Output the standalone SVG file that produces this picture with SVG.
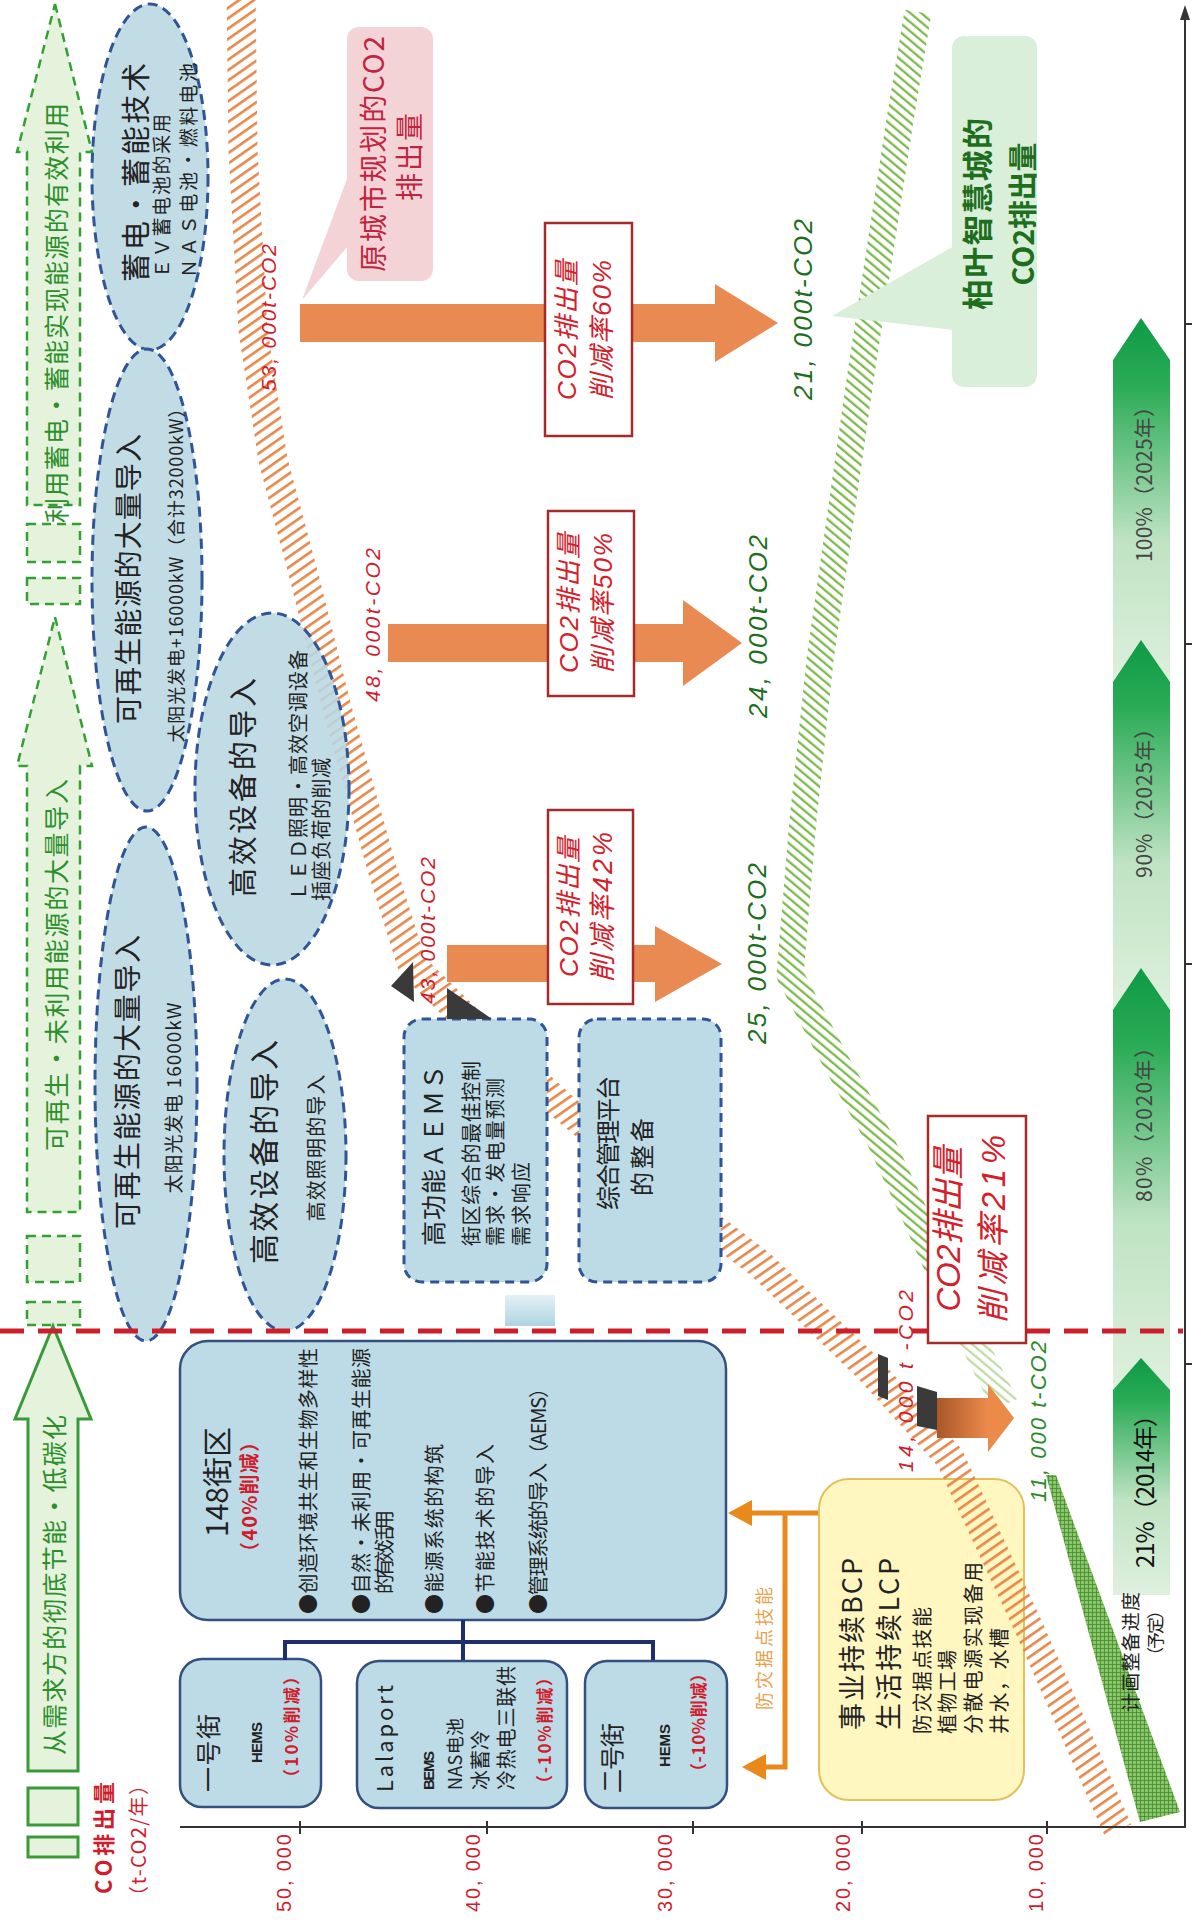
<svg xmlns="http://www.w3.org/2000/svg" width="1192" height="1922" viewBox="0 0 1192 1922">
<defs>
<style>
.cn{font-family:"Noto Sans CJK SC","Noto Sans",sans-serif;dominant-baseline:central}
.lat{font-family:"Liberation Sans","Noto Sans CJK SC",sans-serif;dominant-baseline:central}
.it{font-family:"Liberation Sans","Noto Sans CJK SC",sans-serif;font-style:italic;dominant-baseline:central}
.ell{fill:#b9d7e3;fill-opacity:.88;stroke:#2f5597;stroke-width:3;stroke-dasharray:10 6}
.dbox{fill:#bcdbe6;stroke:#2f5597;stroke-width:3;stroke-dasharray:9 6}
.box{fill:#bddbe6;stroke:#34507e;stroke-width:2.5}
.garr{fill:#e5f3dd;stroke:#34a034;stroke-width:2.5;stroke-dasharray:9 6}
.garrs{fill:#e5f3dd;stroke:#3a9a3a;stroke-width:3}
.gtxt{fill:#2b8f2b;font-size:25px}
.oarr{fill:#e98a52}
.rbox{fill:#fff;stroke:#a52a2a;stroke-width:2.5}
.rtxt{fill:#d4202a}
.red{fill:#d01c2c}
.grn{fill:#1d6e1d}
.dark{fill:#222}
.tree{fill:none;stroke:#1f2f6e;stroke-width:4}
.bcp{fill:none;stroke:#e9891c;stroke-width:5}
.axis{stroke:#333;stroke-width:2;fill:none}
</style>
<pattern id="hO" patternUnits="userSpaceOnUse" width="8.5" height="8.5" patternTransform="rotate(55)"><rect width="2.6" height="8.5" fill="#e8874a"/></pattern>
<pattern id="hG" patternUnits="userSpaceOnUse" width="7" height="7" patternTransform="rotate(-50)"><rect width="2.3" height="7" fill="#7db94c"/></pattern>
<pattern id="hX" patternUnits="userSpaceOnUse" width="4" height="4"><rect width="4" height="4" fill="#8cc46a"/><path d="M0 0H4M0 0V4" stroke="#3d8a2c" stroke-width="1.5"/></pattern>
<linearGradient id="gp" x1="0" y1="0" x2="0" y2="1"><stop offset="0" stop-color="#0e9a46"/><stop offset=".18" stop-color="#2aab55"/><stop offset=".6" stop-color="#bfe3c3"/><stop offset="1" stop-color="#dff0de"/></linearGradient>
<linearGradient id="gb" x1="0" y1="0" x2="0" y2="1"><stop offset="0" stop-color="#e4f1f6"/><stop offset="1" stop-color="#aed3e2"/></linearGradient>
<linearGradient id="g3d" x1="0" y1="0" x2="1" y2="0"><stop offset="0" stop-color="#a9572a"/><stop offset="1" stop-color="#ec8a4a"/></linearGradient>
</defs>
<rect width="1192" height="1922" fill="#fff"/>

<!-- progress arrows -->
<g id="n-progress">
<polygon points="1141,318 1170,360 1170,690 1113,690 1113,360" fill="url(#gp)"/>
<polygon points="1141,640 1170,682 1170,1012 1113,1012 1113,682" fill="url(#gp)"/>
<polygon points="1141,968 1170,1010 1170,1392 1113,1392 1113,1010" fill="url(#gp)"/>
<polygon points="1141,1358 1170,1390 1170,1595 1113,1595 1113,1390" fill="url(#gp)"/>
<text class="cn" fill="#444" font-size="21" x="1143" y="562" transform="rotate(-90 1143 562)" textLength="166">100%（2025年）</text>
<text class="cn" fill="#444" font-size="21" x="1143" y="878" transform="rotate(-90 1143 878)" textLength="160">90%（2025年）</text>
<text class="cn" fill="#444" font-size="21" x="1143" y="1202" transform="rotate(-90 1143 1202)" textLength="165">80%（2020年）</text>
<text class="cn" fill="#111" font-size="24" x="1143" y="1568" transform="rotate(-90 1143 1568)" textLength="165">21%（2014年）</text>
<polygon points="1046,1475 1056,1475 1180,1812 1140,1822" fill="url(#hX)"/>
<text class="cn dark" font-size="19" x="1129" y="1712" transform="rotate(-90 1129 1712)" textLength="120">计画整备进度</text>
<text class="cn dark" font-size="17" x="1154" y="1664" transform="rotate(-90 1154 1664)" textLength="62">（予定）</text>
</g>

<!-- BCP box -->
<g id="n-bcp">
<rect x="819" y="1479" width="205" height="321" rx="30" fill="#fff6c0" stroke="#e0c15a" stroke-width="2"/>
<text class="cn dark" font-size="27" x="850" y="1730" transform="rotate(-90 850 1730)" textLength="172">事业持续BCP</text>
<text class="cn dark" font-size="27" x="887" y="1730" transform="rotate(-90 887 1730)" textLength="172">生活持续LCP</text>
<text class="cn dark" font-size="20" x="921" y="1734" transform="rotate(-90 921 1734)" textLength="127">防灾据点技能</text>
<text class="cn dark" font-size="20" x="946" y="1734" transform="rotate(-90 946 1734)" textLength="84">植物工場</text>
<text class="cn dark" font-size="20" x="972" y="1734" transform="rotate(-90 972 1734)" textLength="172">分散电源实现备用</text>
<text class="cn dark" font-size="20" x="998" y="1734" transform="rotate(-90 998 1734)" textLength="106">井水，水槽</text>
</g>

<!-- hatched emission bands -->
<g id="bands" fill="none" stroke-linejoin="round">
<path d="M241,-10 L243,150 L253,330 L273,460 L305,580 L338,712 L383,872 L412,965 L470,1022 L562,1106 L660,1188 L760,1264 L868,1368 L950,1458 L1030,1630 L1118,1830" stroke="url(#hO)" stroke-width="29"/>
<path d="M918,12 L900,120 L880,250 L860,380 L840,520 L820,660 L803,820 L790,975 L835,1060 L880,1140 L915,1215 L950,1295" stroke="url(#hG)" stroke-width="27"/>
<path d="M950,1295 L1005,1405" stroke="url(#hG)" stroke-width="27" opacity=".5"/>
</g>

<!-- ellipses -->
<g id="n-storage">
<ellipse class="ell" cx="150" cy="177" rx="58" ry="173"/>
<text class="cn dark" font-size="29" x="134" y="282" transform="rotate(-90 134 282)" textLength="219">蓄电・蓄能技术</text>
<text class="cn dark" font-size="19" x="160" y="278" transform="rotate(-90 160 278)" textLength="164">ＥＶ蓄电池的采用</text>
<text class="cn dark" font-size="19" x="187" y="278" transform="rotate(-90 187 278)" textLength="215">ＮＡＳ电池・燃料电池</text>
</g>
<g id="n-renew2">
<ellipse class="ell" cx="147" cy="580" rx="55" ry="231"/>
<text class="cn dark" font-size="28" x="127" y="579" text-anchor="middle" transform="rotate(-90 127 579)" textLength="290">可再生能源的大量导入</text>
<text class="cn dark" font-size="18" x="175" y="571" text-anchor="middle" transform="rotate(-90 175 571)" textLength="343">太阳光发电+16000kW（合计32000kW）</text>
</g>
<g id="n-renew1">
<ellipse class="ell" cx="146" cy="1084" rx="51" ry="257"/>
<text class="cn dark" font-size="28" x="126" y="1082" text-anchor="middle" transform="rotate(-90 126 1082)" textLength="294">可再生能源的大量导入</text>
<text class="cn dark" font-size="19" x="172" y="1098" text-anchor="middle" transform="rotate(-90 172 1098)" textLength="191">太阳光发电 16000kW</text>
</g>
<g id="n-equip2">
<ellipse class="ell" cx="272" cy="789" rx="77" ry="176"/>
<text class="cn dark" font-size="29" x="241" y="897" transform="rotate(-90 241 897)" textLength="219">高效设备的导入</text>
<text class="cn dark" font-size="20" x="297" y="901" transform="rotate(-90 297 901)" textLength="251">ＬＥＤ照明・高效空调设备</text>
<text class="cn dark" font-size="20" x="320" y="901" transform="rotate(-90 320 901)" textLength="143">插座负荷的削减</text>
</g>
<g id="n-equip1">
<ellipse class="ell" cx="285" cy="1155" rx="61" ry="176"/>
<text class="cn dark" font-size="30" x="262" y="1152" text-anchor="middle" transform="rotate(-90 262 1152)" textLength="224">高效设备的导入</text>
<text class="cn dark" font-size="20" x="315" y="1148" text-anchor="middle" transform="rotate(-90 315 1148)" textLength="147">高效照明的导入</text>
</g>

<!-- AEMS and platform -->
<g id="n-aems">
<rect class="dbox" x="404" y="1019" width="143" height="263" rx="18"/>
<text class="cn dark" font-size="25" x="432" y="1246" transform="rotate(-90 432 1246)" textLength="181">高功能ＡＥＭＳ</text>
<text class="cn dark" font-size="20" x="470" y="1246" transform="rotate(-90 470 1246)" textLength="185">街区综合的最佳控制</text>
<text class="cn dark" font-size="20" x="494" y="1246" transform="rotate(-90 494 1246)" textLength="168">需求・发电量预测</text>
<text class="cn dark" font-size="20" x="520" y="1246" transform="rotate(-90 520 1246)" textLength="84">需求响应</text>
</g>
<g id="n-platform">
<rect class="dbox" x="579" y="1019" width="142" height="263" rx="18"/>
<text class="cn dark" font-size="24" x="606" y="1210" transform="rotate(-90 606 1210)" textLength="134">综合管理平台</text>
<text class="cn dark" font-size="24" x="640" y="1196" transform="rotate(-90 640 1196)" textLength="78">的整备</text>
</g>

<!-- 148 district -->
<g id="n-148">
<rect class="box" x="180" y="1341" width="546" height="279" rx="28"/>
<text class="cn dark" font-size="30" x="215" y="1482" text-anchor="middle" transform="rotate(-90 215 1482)" textLength="110">148街区</text>
<text class="cn red" font-size="20" font-weight="bold" x="248" y="1497" text-anchor="middle" transform="rotate(-90 248 1497)" textLength="130">（40%削减）</text>
<text class="cn dark" font-size="20" x="307" y="1614" transform="rotate(-90 307 1614)" textLength="266">●创造环境共生和生物多样性</text>
<text class="cn dark" font-size="20" x="360" y="1614" transform="rotate(-90 360 1614)" textLength="266">●自然・未利用・可再生能源</text>
<text class="cn dark" font-size="20" x="383" y="1594" transform="rotate(-90 383 1594)" textLength="84">的有效活用</text>
<text class="cn dark" font-size="20" x="433" y="1614" transform="rotate(-90 433 1614)" textLength="170">●能源系统的构筑</text>
<text class="cn dark" font-size="20" x="484" y="1614" transform="rotate(-90 484 1614)" textLength="170">●节能技术的导入</text>
<text class="cn dark" font-size="20" x="537" y="1614" transform="rotate(-90 537 1614)" textLength="236">●管理系统的导入（AEMS）</text>
</g>
<g id="n-st1">
<rect class="box" x="180" y="1659" width="141" height="148" rx="22"/>
<text class="cn dark" font-size="25" x="207" y="1792" transform="rotate(-90 207 1792)" textLength="78">一号街</text>
<text class="lat dark" font-size="15" font-weight="bold" x="256" y="1763" transform="rotate(-90 256 1763)" textLength="41">HEMS</text>
<text class="cn red" font-size="17" font-weight="bold" x="290" y="1786" transform="rotate(-90 290 1786)" textLength="118">（10%削减）</text>
</g>
<g id="n-lalaport">
<rect class="box" x="357" y="1661" width="210" height="147" rx="22"/>
<text class="cn dark" font-size="22" x="383" y="1792" transform="rotate(-90 383 1792)" textLength="107">Lalaport</text>
<text class="lat dark" font-size="15" font-weight="bold" x="428" y="1790" transform="rotate(-90 428 1790)" textLength="39">BEMS</text>
<text class="cn dark" font-size="18" x="454" y="1790" transform="rotate(-90 454 1790)" textLength="72">NAS电池</text>
<text class="cn dark" font-size="20" x="479" y="1790" transform="rotate(-90 479 1790)" textLength="60">冰蓄冷</text>
<text class="cn dark" font-size="20" x="505" y="1790" transform="rotate(-90 505 1790)" textLength="124">冷热电三联供</text>
<text class="cn red" font-size="17" font-weight="bold" x="543" y="1792" transform="rotate(-90 543 1792)" textLength="123">（-10%削减）</text>
</g>
<g id="n-st2">
<rect class="box" x="585" y="1661" width="142" height="147" rx="22"/>
<text class="cn dark" font-size="24" x="610" y="1793" transform="rotate(-90 610 1793)" textLength="70">二号街</text>
<text class="lat dark" font-size="15" font-weight="bold" x="664" y="1767" transform="rotate(-90 664 1767)" textLength="43">HEMS</text>
<text class="cn red" font-size="17" font-weight="bold" x="697" y="1780" transform="rotate(-90 697 1780)" textLength="115">（-10%削减）</text>
</g>

<!-- reduction arrows and boxes -->
<g id="n-arrow60">
<polygon class="oarr" points="300,304 715,304 715,284 778,323 715,362 715,342 300,342"/>
<rect class="rbox" x="545" y="223" width="87" height="213"/>
<text class="it rtxt" font-size="26" x="567" y="330" text-anchor="middle" transform="rotate(-90 567 330)" textLength="140">CO2排出量</text>
<text class="it rtxt" font-size="26" x="602" y="330" text-anchor="middle" transform="rotate(-90 602 330)" textLength="140">削减率60%</text>
</g>
<g id="n-arrow50">
<polygon class="oarr" points="388,624 683,624 683,600 742,643 683,686 683,662 388,662"/>
<rect class="rbox" x="548" y="511" width="86" height="185"/>
<text class="it rtxt" font-size="26" x="569" y="603" text-anchor="middle" transform="rotate(-90 569 603)" textLength="140">CO2排出量</text>
<text class="it rtxt" font-size="26" x="603" y="603" text-anchor="middle" transform="rotate(-90 603 603)" textLength="140">削减率50%</text>
</g>
<g id="n-arrow42">
<polygon points="391,986 413,962 414,1002" fill="#3a3a3a"/>
<polygon points="447,988 492,1019 447,1019" fill="#3a3a3a"/>
<polygon class="oarr" points="447,945 655,945 655,926 722,964 655,1002 655,982 447,982"/>
<rect class="rbox" x="548" y="810" width="85" height="194"/>
<text class="it rtxt" font-size="26" x="569" y="907" text-anchor="middle" transform="rotate(-90 569 907)" textLength="140">CO2排出量</text>
<text class="it rtxt" font-size="27" x="603" y="907" text-anchor="middle" transform="rotate(-90 603 907)" textLength="150">削减率42%</text>
</g>
<g id="n-arrow21">
<polygon points="878,1354 888,1358 888,1400 878,1396" fill="#3a3a3a"/>
<polygon points="917,1386 937,1392 937,1430 917,1426" fill="#3a3a3a"/>
<rect x="937" y="1398" width="51" height="40" fill="url(#g3d)"/>
<polygon points="988,1384 1014,1418 988,1452" fill="#ec8a4a"/>
</g>

<!-- callouts -->
<g id="n-callout-plan">
<polygon points="348,176 348,246 302,300" fill="#f4d3d7"/>
<rect x="347" y="27" width="86" height="254" rx="12" fill="#f4d3d7"/>
<text class="cn" fill="#c0243f" font-size="28" x="372" y="154" text-anchor="middle" transform="rotate(-90 372 154)" textLength="236">原城市规划的CO2</text>
<text class="cn" fill="#c0243f" font-size="28" x="408" y="157" text-anchor="middle" transform="rotate(-90 408 157)" textLength="88">排出量</text>
</g>
<g id="n-callout-smart">
<polygon points="954,246 954,330 832,316" fill="#d9efd9"/>
<rect x="952" y="36" width="85" height="351" rx="12" fill="#d9efd9"/>
<text class="cn grn" font-size="31" font-weight="bold" x="975" y="214" text-anchor="middle" transform="rotate(-90 975 214)" textLength="192">柏叶智慧城的</text>
<text class="cn grn" font-size="29" font-weight="bold" x="1021" y="214" text-anchor="middle" transform="rotate(-90 1021 214)" textLength="143">CO2排出量</text>
</g>

<!-- left green arrows -->
<g id="n-garrA">
<polygon class="garr" points="55,4 92,152 80,152 80,505 27,505 27,152 17,152"/>
<rect class="garr" x="27" y="524" width="53" height="38"/>
<rect class="garr" x="27" y="578" width="53" height="26"/>
<text class="cn gtxt" x="55" y="313" text-anchor="middle" transform="rotate(-90 55 313)" textLength="420">利用蓄电・蓄能实现能源的有效利用</text>
</g>
<g id="n-garrB">
<polygon class="garr" points="55,617 92,766 80,766 80,1212 27,1212 27,766 17,766"/>
<rect class="garr" x="27" y="1236" width="53" height="46"/>
<rect class="garr" x="27" y="1302" width="53" height="23"/>
<text class="cn gtxt" x="55" y="965" text-anchor="middle" transform="rotate(-90 55 965)" textLength="372">可再生・未利用能源的大量导入</text>
</g>
<g id="n-garrC">
<polygon class="garrs" points="53,1326 91,1419 78,1419 78,1771 28,1771 28,1419 15,1419"/>
<rect class="garrs" x="28" y="1788" width="50" height="37"/>
<rect class="garrs" x="28" y="1837" width="50" height="20"/>
<text class="cn gtxt" x="53" y="1585" text-anchor="middle" transform="rotate(-90 53 1585)" textLength="340">从需求方的彻底节能・低碳化</text>
</g>

<!-- connectors -->
<g id="connectors">
<rect x="505" y="1295" width="50" height="31" fill="url(#gb)"/>
<path class="tree" d="M463,1620 V1660 M285,1660 V1642 H653 V1660"/>
<path class="bcp" d="M818,1513 H748 M785,1513 V1767 H760"/>
<polygon points="728,1513 752,1500 752,1526" fill="#e9891c"/>
<polygon points="742,1767 766,1754 766,1780" fill="#e9891c"/>
<text class="cn" fill="#eba04a" font-size="18" x="763" y="1710" transform="rotate(-90 763 1710)" textLength="123">防灾据点技能</text>
</g>

<!-- red dashed divider -->
<line x1="0" y1="1331" x2="1183" y2="1331" stroke="#cc1f2a" stroke-width="5" stroke-dasharray="24 14"/>
<g id="n-box21">
<rect class="rbox" x="928" y="1116" width="98" height="227"/>
<text class="it rtxt" font-size="33" x="948" y="1229" text-anchor="middle" transform="rotate(-90 948 1229)" textLength="165">CO2排出量</text>
<text class="it rtxt" font-size="33" x="993" y="1229" text-anchor="middle" transform="rotate(-90 993 1229)" textLength="188">削减率21%</text>
</g>

<!-- axes -->
<g id="axes">
<path class="axis" d="M180,1827 H1185 V14"/>
<polygon points="1185,5 1180,20 1190,20" fill="#333"/>
<path class="axis" d="M300,1821 V1834 M487,1821 V1834 M693,1821 V1834 M862,1821 V1834 M1047,1821 V1834 M1185,324 H1192 M1185,644 H1192 M1185,964 H1192 M1185,1364 H1192"/>
<text class="lat red" font-size="20" x="284" y="1912" transform="rotate(-90 284 1912)" textLength="78">50, 000</text>
<text class="lat red" font-size="20" x="473" y="1912" transform="rotate(-90 473 1912)" textLength="78">40, 000</text>
<text class="lat red" font-size="20" x="665" y="1912" transform="rotate(-90 665 1912)" textLength="78">30, 000</text>
<text class="lat red" font-size="20" x="843" y="1912" transform="rotate(-90 843 1912)" textLength="78">20, 000</text>
<text class="lat red" font-size="20" x="1036" y="1912" transform="rotate(-90 1036 1912)" textLength="78">10, 000</text>
<text class="cn red" font-size="22" font-weight="bold" x="102" y="1894" transform="rotate(-90 102 1894)" textLength="112">CO排出量</text>
<text class="cn red" font-size="20" x="137" y="1906" transform="rotate(-90 137 1906)" textLength="131">（t-CO2/年）</text>
</g>

<!-- value labels -->
<g id="labels">
<text class="it red" font-size="21" x="268" y="391" transform="rotate(-90 268 391)" textLength="147">53, 000t-CO2</text>
<text class="it red" font-size="21" x="372" y="702" transform="rotate(-90 372 702)" textLength="154">48, 000t-CO2</text>
<text class="it red" font-size="21" x="427" y="1004" transform="rotate(-90 427 1004)" textLength="147">43, 000t-CO2</text>
<text class="it red" font-size="21" x="905" y="1472" transform="rotate(-90 905 1472)" textLength="182">14, 000 t -CO2</text>
<text class="it grn" font-size="26" x="803" y="400" transform="rotate(-90 803 400)" textLength="181">21, 000t-CO2</text>
<text class="it grn" font-size="26" x="758" y="718" transform="rotate(-90 758 718)" textLength="183">24, 000t-CO2</text>
<text class="it grn" font-size="26" x="757" y="1044" transform="rotate(-90 757 1044)" textLength="181">25, 000t-CO2</text>
<text class="it" fill="#2a8a2a" font-size="22" x="1038" y="1502" transform="rotate(-90 1038 1502)" textLength="161">11, 000 t-CO2</text>
</g>
</svg>
